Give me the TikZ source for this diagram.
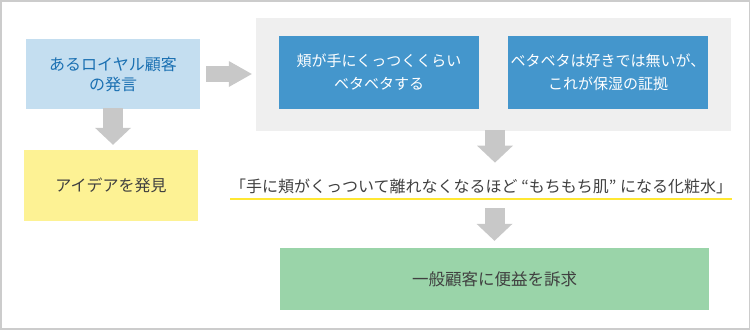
\documentclass[tikz,border=0pt]{standalone}
\usepackage{fontspec}
\setmainfont{Noto Sans CJK JP}
\usetikzlibrary{arrows.meta,positioning,calc}
\definecolor{frameline}{HTML}{CCCCCC}
\definecolor{panelgray}{HTML}{EFEFEF}
\definecolor{arrowgray}{HTML}{C8C8C8}
\definecolor{paleblue}{HTML}{C4DEF0}
\definecolor{paleink}{HTML}{1A70B2}
\definecolor{deepblue}{HTML}{4496CC}
\definecolor{paleyellow}{HTML}{FDF294}
\definecolor{palegreen}{HTML}{9AD4A9}
\definecolor{markyellow}{HTML}{FFE733}
\definecolor{ink}{HTML}{404040}
\tikzset{
  card/.style={inner sep=0pt,align=center,font=\fontsize{16}{20}\selectfont},
  palecard/.style={card,fill=paleblue,text=paleink,minimum width=174pt,
                   minimum height=70pt},
  bluecard/.style={card,fill=deepblue,text=white,minimum width=200pt,
                   minimum height=73pt,font=\fontsize{15}{23}\selectfont},
  ideacard/.style={card,fill=paleyellow,text=ink,minimum width=174pt,
                   minimum height=71pt},
  goalcard/.style={card,fill=palegreen,text=ink,minimum width=429pt,
                   minimum height=62pt,font=\fontsize{16.5}{20}\selectfont},
  claimtext/.style={inner sep=0pt,text=ink,minimum height=24pt,
                    font=\fontsize{16}{20}\selectfont},
  panelbox/.style={fill=panelgray,inner sep=0pt,minimum width=475pt,
                   minimum height=113pt},
  fatarr/.style={-{Triangle[length=17pt,width=36pt,line width=0pt]},
                 line width=20pt,draw=arrowgray},
  sidearr/.style={-{Triangle[length=23pt,width=26pt,line width=0pt]},
                  line width=16pt,draw=arrowgray},
  markline/.style={line width=1.2pt,draw=markyellow}
}
\begin{document}
\begin{tikzpicture}[x=1pt,y=-1pt]
    \path[use as bounding box] (0,0) rectangle (750,330);
    \draw[frameline,line width=1.5pt] (0.75,0.75) rectangle (749.25,328.75);
    % left column
    \node[palecard] (voice) at (113,74) {あるロイヤル顧客\\の発言};
    \node[ideacard] (idea) at (111,185.5) {アイデアを発見};
    % grey panel with the two findings
    \node[panelbox] (panel) at (493.5,74.5) {};
    \node[bluecard] (touch) at (379,72.5) {頬が手にくっつくくらい\\ベタベタする};
    \node[bluecard] (proof) at (608,72.5) {ベタベタは好きでは無いが、\\これが保湿の証拠};
    % concept line and result
    \node[claimtext,anchor=south west] (claim) at (230,199)
      {「手に頬がくっついて離れなくなるほど “もちもち肌” になる化粧水」};
    \draw[markline] (claim.south west) -- ++(502,0);
    \node[goalcard] (goal) at (494.5,279) {一般顧客に便益を訴求};
    % block arrows
    \draw[sidearr,shorten <=6pt,shorten >=4pt] (voice.east) -- (panel.west |- voice.east);
    \draw[fatarr,shorten <=-1pt,shorten >=5pt] (voice.south) -- (voice.south |- idea.north);
    \draw[fatarr,shorten <=-1pt,shorten >=12pt] ([xshift=1.5pt]panel.south)
      -- ([xshift=1.5pt]panel.south |- claim.north);
    \draw[fatarr,shorten <=9pt,shorten >=7pt] (goal.north |- claim.south) -- (goal.north);
  \end{tikzpicture}
\end{document}
